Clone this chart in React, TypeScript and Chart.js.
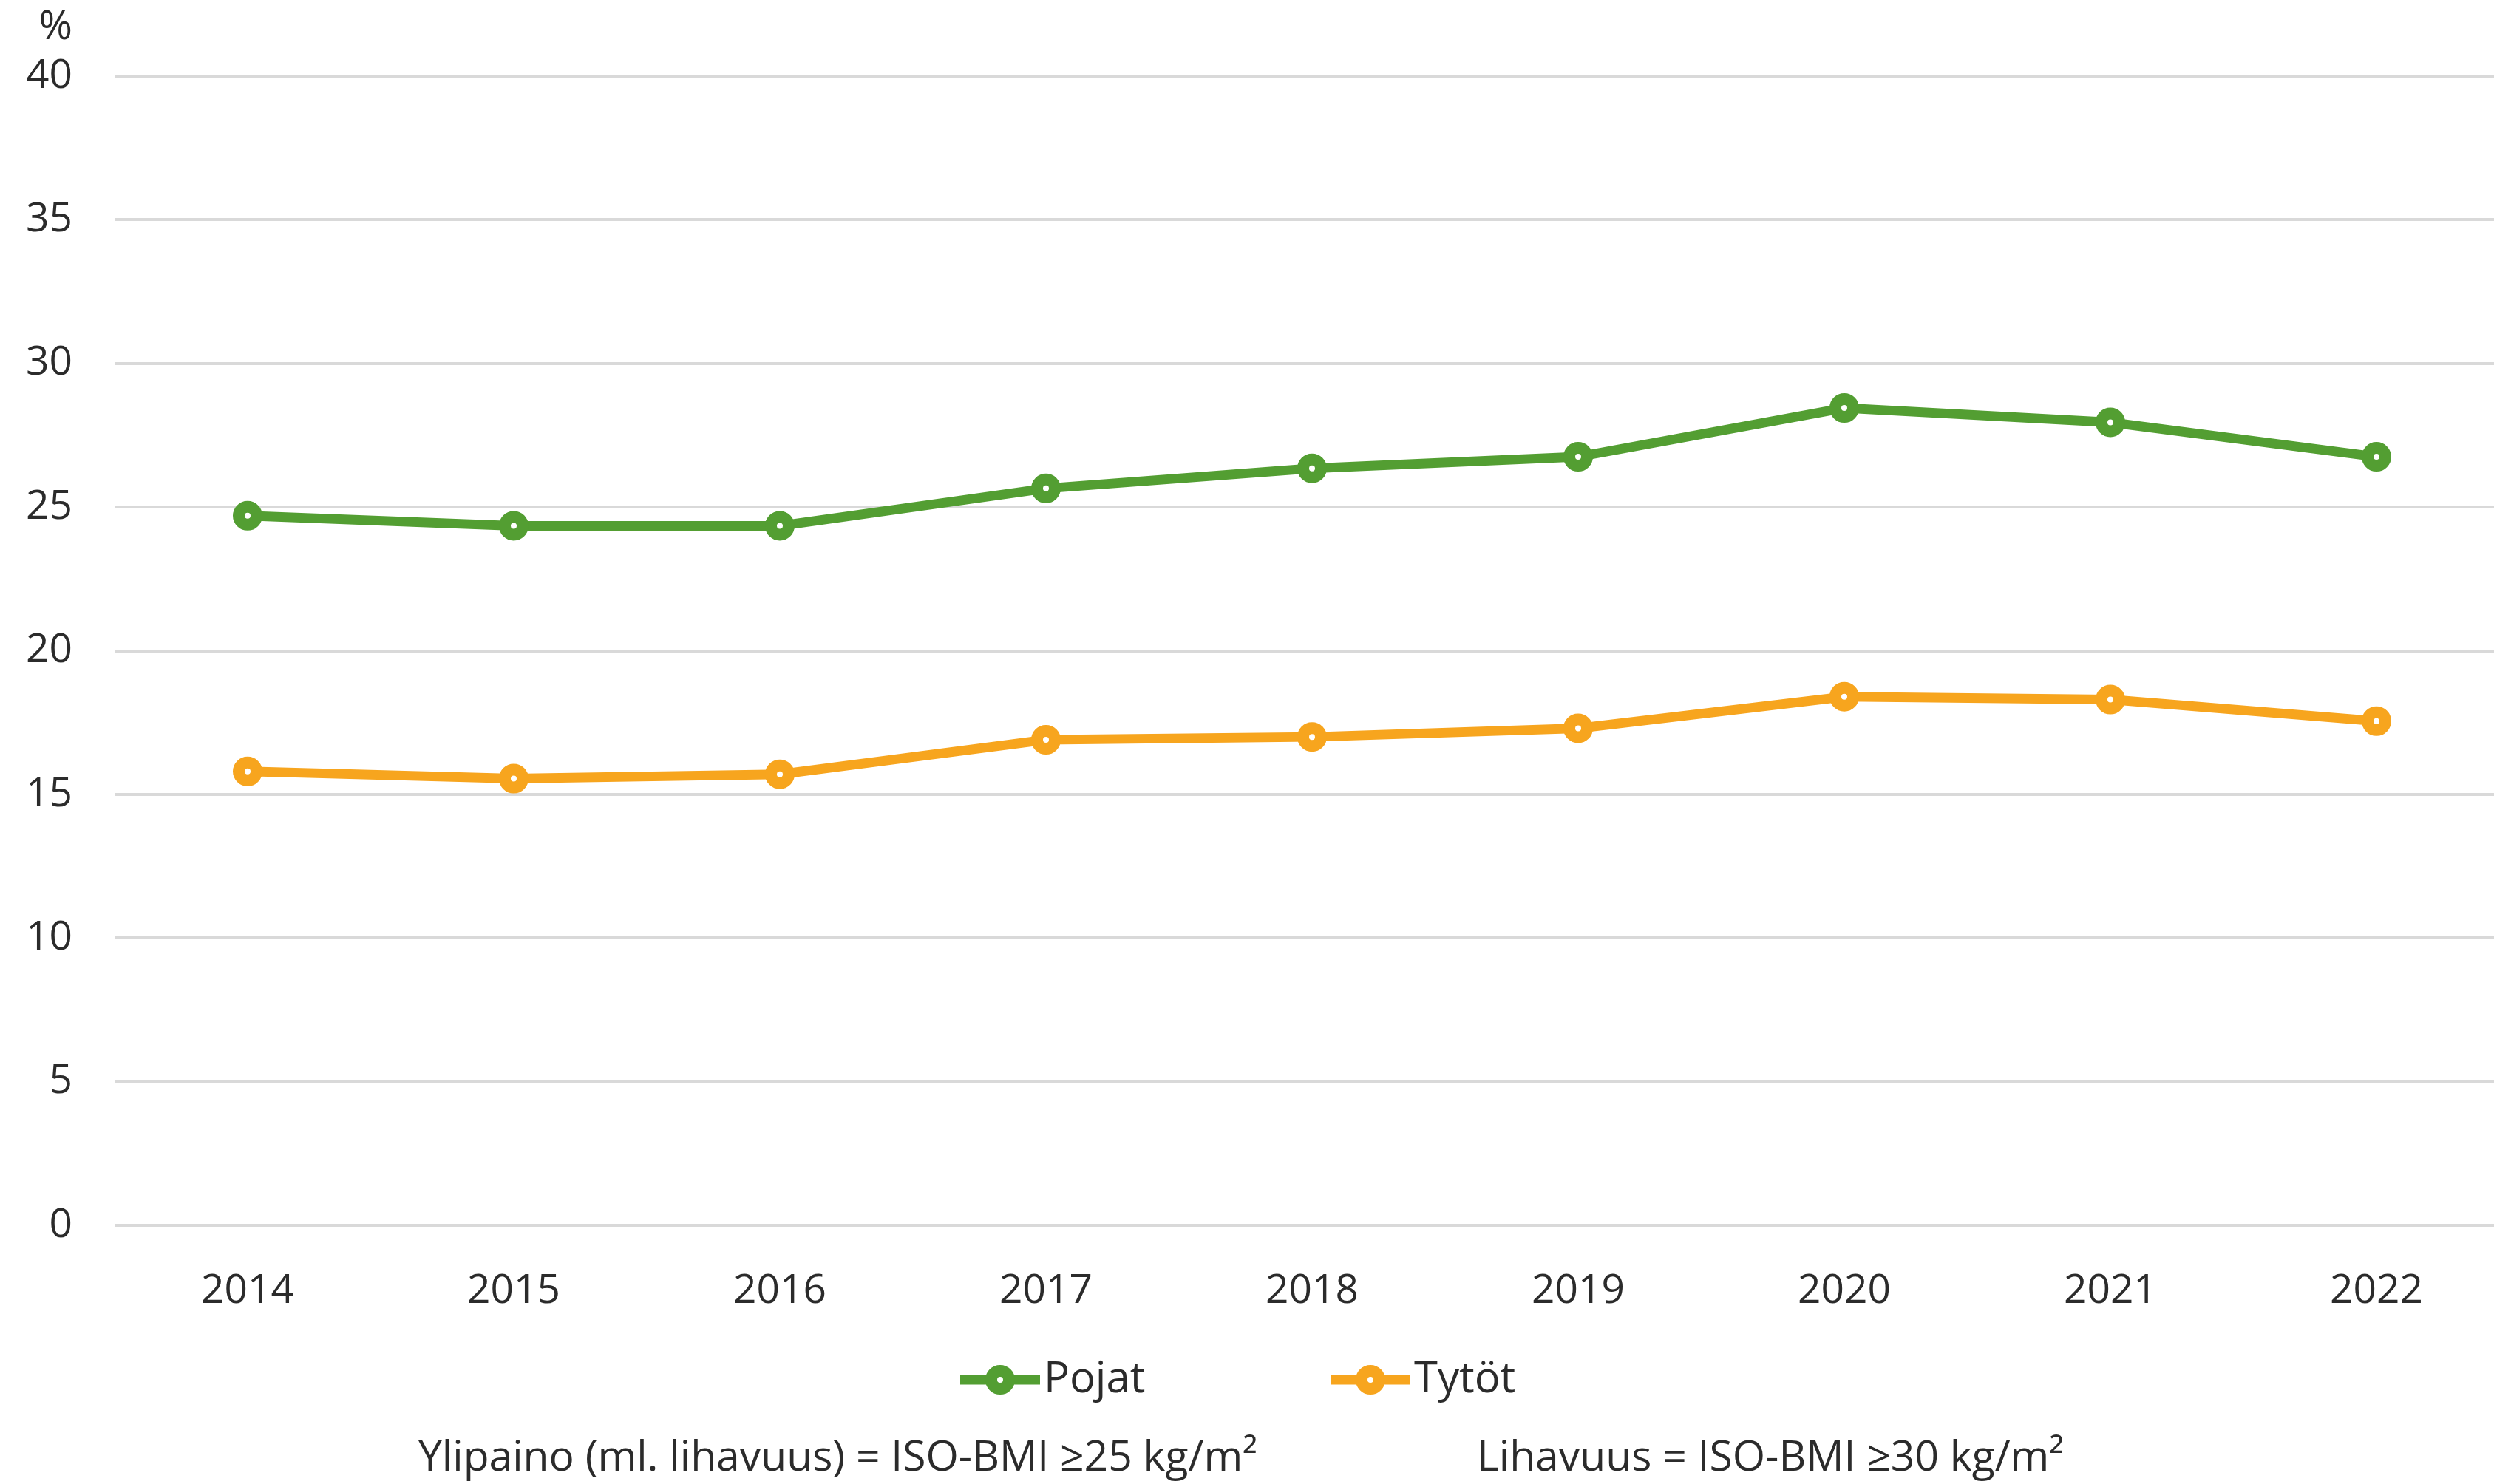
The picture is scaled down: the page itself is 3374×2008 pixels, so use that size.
import { useEffect, useRef } from 'react';
import { Chart, ChartConfiguration, Plugin, registerables } from 'chart.js';

Chart.register(...registerables);

const years = ['2014', '2015', '2016', '2017', '2018', '2019', '2020', '2021', '2022'];
const pojat = [24.7, 24.35, 24.35, 25.65, 26.35, 26.75, 28.45, 27.95, 26.75];
const tytot = [15.8, 15.55, 15.7, 16.9, 17.0, 17.3, 18.4, 18.3, 17.55];
const seriesNames = ['Pojat', 'Tytöt'];
const footnotes = ['Ylipaino (ml. lihavuus) = ISO-BMI ≥25 kg/m²', 'Lihavuus = ISO-BMI ≥30 kg/m²'];

const GREEN = '#539E32';
const ORANGE = '#F7A51E';
const TEXT = '#2b2b2b';
const FONT = '"Open Sans", sans-serif';

// canvas is a bit wider than the window: the reference crops the last band on the right
const CANVAS_W = 3395;
const CANVAS_H = 2008;

// legend, unit label and footnotes are drawn by hand (Excel-like layout)
const extrasPlugin: Plugin<'line'> = {
  id: 'extras',
  afterDraw(chart) {
    const ctx = chart.ctx;
    const yScale = chart.scales.y;
    ctx.save();
    ctx.fillStyle = TEXT;
    ctx.font = `55px ${FONT}`;
    ctx.textBaseline = 'middle';
    ctx.textAlign = 'right';
    ctx.fillText('%', yScale.right - 57, 37);

    // legend
    const legendStarts = [1299, 1800];
    const legendY = 1867;
    chart.data.datasets.forEach((ds, i) => {
      const x0 = legendStarts[i];
      const color = ds.borderColor as string;
      ctx.strokeStyle = color;
      ctx.lineWidth = 13;
      ctx.beginPath();
      ctx.moveTo(x0, legendY);
      ctx.lineTo(x0 + 108, legendY);
      ctx.stroke();
      ctx.beginPath();
      ctx.arc(x0 + 54, legendY, 12, 0, Math.PI * 2);
      ctx.fillStyle = '#ffffff';
      ctx.fill();
      ctx.lineWidth = 16;
      ctx.stroke();
      ctx.fillStyle = TEXT;
      ctx.font = `58px ${FONT}`;
      ctx.textAlign = 'left';
      ctx.fillText(ds.label as string, x0 + 113, legendY);
    });

    // footnotes
    ctx.font = `57px ${FONT}`;
    ctx.textAlign = 'left';
    ctx.fillText(footnotes[0], 566, 1974);
    ctx.fillText(footnotes[1], 1998, 1974);
    ctx.restore();
  },
};

export default function App() {
  const canvasRef = useRef<HTMLCanvasElement>(null);
  const chartRef = useRef<Chart | null>(null);

  useEffect(() => {
    document.body.style.margin = '0';
    document.documentElement.style.overflow = 'hidden';
    if (!canvasRef.current) return;
    if (chartRef.current) chartRef.current.destroy();
    const ctx = canvasRef.current.getContext('2d');
    if (!ctx) return;

    const config: ChartConfiguration<'line'> = {
      type: 'line',
      data: {
        labels: years,
        datasets: [
          {
            label: seriesNames[0],
            data: pojat,
            borderColor: GREEN,
            backgroundColor: GREEN,
            borderWidth: 13,
            pointRadius: 12,
            pointBorderWidth: 16,
            pointBackgroundColor: '#ffffff',
            pointBorderColor: GREEN,
            tension: 0,
          },
          {
            label: seriesNames[1],
            data: tytot,
            borderColor: ORANGE,
            backgroundColor: ORANGE,
            borderWidth: 13,
            pointRadius: 12,
            pointBorderWidth: 16,
            pointBackgroundColor: '#ffffff',
            pointBorderColor: ORANGE,
            tension: 0,
          },
        ],
      },
      options: {
        responsive: false,
        animation: false,
        devicePixelRatio: 1,
        layout: { autoPadding: false, padding: { top: 103, left: 0, right: 0, bottom: 0 } },
        plugins: {
          legend: { display: false },
          tooltip: { enabled: false },
        },
        scales: {
          x: {
            offset: true,
            grid: { display: false },
            border: { display: false },
            ticks: {
              color: TEXT,
              font: { family: FONT, size: 55 },
              padding: 48,
              maxRotation: 0,
            },
            afterFit: (scale) => {
              scale.height = 350;
            },
          },
          y: {
            min: 0,
            max: 40,
            grid: { color: '#d9d9d9', lineWidth: 4, drawTicks: false },
            border: { display: false },
            ticks: {
              stepSize: 5,
              color: TEXT,
              font: { family: FONT, size: 55 },
              padding: 57,
            },
            afterFit: (scale) => {
              scale.width = 155;
            },
          },
        },
      },
      plugins: [extrasPlugin],
    };

    chartRef.current = new Chart(ctx, config);
    return () => {
      if (chartRef.current) {
        chartRef.current.destroy();
        chartRef.current = null;
      }
    };
  }, []);

  return (
    <div style={{ position: 'relative', width: 3374, height: 2008, overflow: 'hidden', background: '#ffffff' }}>
      <canvas
        ref={canvasRef}
        width={CANVAS_W}
        height={CANVAS_H}
        style={{ position: 'absolute', left: 0, top: 0, width: CANVAS_W, height: CANVAS_H }}
      />
    </div>
  );
}
